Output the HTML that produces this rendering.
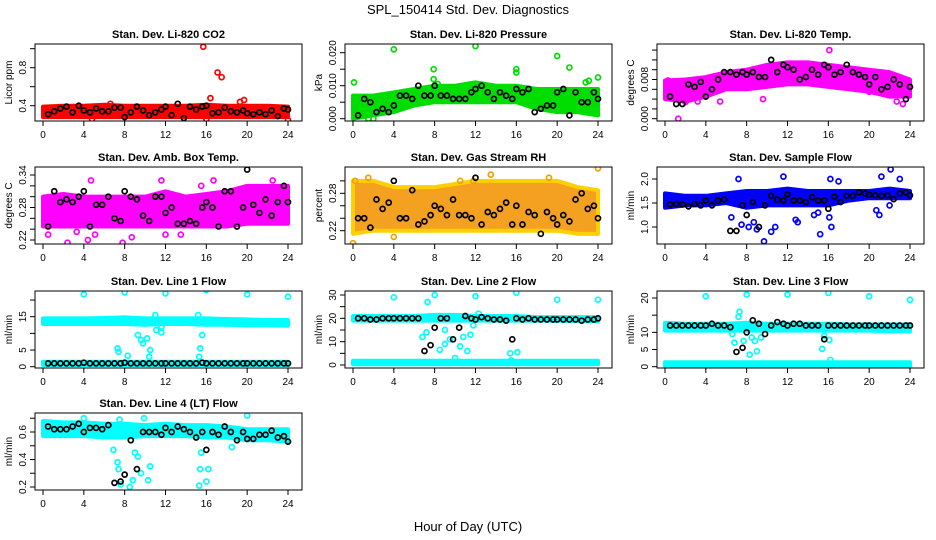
<!DOCTYPE html>
<html><head><meta charset="utf-8"><style>
html,body{margin:0;padding:0;background:#fff;}
svg{display:block;font-family:"Liberation Sans",sans-serif;}
</style></head><body>
<svg id="chart" width="936" height="540" viewBox="0 0 936 540">
<text x="468" y="14" text-anchor="middle" font-size="13">SPL_150414  Std. Dev. Diagnostics</text>
<text x="468" y="531" text-anchor="middle" font-size="13">Hour of Day (UTC)</text>
</svg>
<script>
const xTicks = [0,4,8,12,16,20,24];
const bandHours = [0,2,4,6,8,10,12,14,16,18,20,22,24];
const blackX = [0.5,1.1,1.7,2.3,2.9,3.5,4.0,4.6,5.2,5.8,6.4,7.0,7.6,8.0,8.6,9.2,9.8,10.4,11.0,11.6,12.0,12.6,13.2,13.8,14.4,15.0,15.6,16.0,16.6,17.2,17.8,18.4,19.0,19.6,20.0,20.6,21.2,21.8,22.4,23.0,23.6,24.0];

// Panel 1 CO2
const co2Low = [0.28,0.28,0.28,0.28,0.28,0.28,0.28,0.28,0.28,0.28,0.28,0.28,0.28];
const co2High = [0.39,0.40,0.40,0.41,0.40,0.40,0.40,0.40,0.41,0.40,0.40,0.40,0.39];
const co2OutX = [15.7,17.1,17.5,16.4,19.7,19.3,6.6,16.0,24.0,4.8];
const co2OutY = [1.02,0.75,0.70,0.48,0.46,0.44,0.42,0.26,0.25,0.26];
const co2Black = [0.31,0.34,0.37,0.39,0.33,0.40,0.35,0.33,0.37,0.34,0.34,0.38,0.38,0.28,0.33,0.39,0.35,0.30,0.33,0.36,0.39,0.30,0.42,0.27,0.39,0.36,0.39,0.40,0.32,0.33,0.38,0.34,0.33,0.35,0.32,0.31,0.33,0.31,0.35,0.29,0.37,0.36];
// Panel 2 Pressure
const presLow = [0.000,0.001,0.002,0.004,0.005,0.005,0.005,0.005,0.005,0.003,0.002,0.002,0.001];
const presHigh = [0.007,0.007,0.008,0.009,0.010,0.010,0.011,0.010,0.010,0.009,0.009,0.009,0.009];
const presOutX = [4,12,20,21.2,7.9,7.9,8.3,16,16,0.1,23.1,24,22.8,1.5,2.0];
const presOutY = [0.021,0.022,0.019,0.0155,0.015,0.012,0.0105,0.015,0.014,0.011,0.0115,0.0125,0.011,0.000,0.000];
const presBlack = [0.001,0.006,0.005,0.002,0.003,0.002,0.004,0.007,0.007,0.006,0.010,0.007,0.007,0.010,0.007,0.007,0.006,0.006,0.006,0.008,0.009,0.010,0.008,0.006,0.008,0.007,0.006,0.009,0.008,0.009,0.002,0.003,0.004,0.004,0.008,0.009,0.001,0.008,0.005,0.005,0.008,0.006];
// Panel 3 Li-820 Temp
const tempLow = [0.004,0.0035,0.0045,0.006,0.006,0.0065,0.007,0.007,0.0065,0.006,0.0055,0.0045,0.0045];
const tempHigh = [0.0078,0.008,0.0085,0.0095,0.010,0.011,0.0115,0.0115,0.011,0.0105,0.010,0.0095,0.008];
const tempOutX = [1.3,16.1,5.4,0.3,9.6,20,22.7,23.3,2.0,3.2];
const tempOutY = [0.0000,0.0140,0.0035,0.0078,0.0040,0.0055,0.0035,0.0030,0.0034,0.0035];
const tempBlack = [0.0045,0.0030,0.0030,0.0070,0.0065,0.0075,0.0045,0.0060,0.0080,0.0095,0.0095,0.0090,0.0095,0.0090,0.0095,0.0085,0.0085,0.0120,0.0095,0.0110,0.0105,0.0100,0.0080,0.0085,0.0100,0.0090,0.0110,0.0105,0.0090,0.0095,0.0110,0.0095,0.0090,0.0085,0.0070,0.0085,0.0060,0.0065,0.0080,0.0070,0.0040,0.0065];
// Panel 4 Amb Box Temp
const ambLow = [0.245,0.245,0.245,0.245,0.245,0.245,0.245,0.245,0.245,0.245,0.25,0.25,0.25];
const ambHigh = [0.30,0.305,0.30,0.30,0.30,0.30,0.31,0.30,0.305,0.31,0.32,0.32,0.32];
const ambOutX = [0.5,4.4,5.1,7.8,8.7,12,13.5,15.5,11.6,4.7,16.7,2.4,3.3,22.5];
const ambOutY = [0.23,0.22,0.23,0.215,0.225,0.23,0.23,0.32,0.33,0.33,0.33,0.215,0.235,0.33];
const ambBlack = [0.245,0.31,0.29,0.295,0.29,0.30,0.31,0.245,0.285,0.285,0.30,0.26,0.255,0.31,0.30,0.295,0.265,0.255,0.30,0.30,0.27,0.28,0.25,0.25,0.255,0.25,0.28,0.29,0.28,0.245,0.31,0.31,0.245,0.28,0.35,0.285,0.27,0.295,0.265,0.29,0.32,0.29];
// Panel 5 RH
const rhLow = [0.215,0.22,0.22,0.22,0.22,0.22,0.22,0.22,0.22,0.22,0.22,0.215,0.215];
const rhHigh = [0.30,0.30,0.29,0.29,0.29,0.295,0.30,0.30,0.30,0.30,0.30,0.29,0.285];
const rhOutX = [0,0.2,4,13.5,24,10.5,19.2,11.8,1.5];
const rhOutY = [0.20,0.30,0.21,0.31,0.32,0.30,0.305,0.30,0.305];
const rhBlack = [0.24,0.24,0.225,0.27,0.255,0.265,0.30,0.24,0.24,0.285,0.23,0.235,0.245,0.26,0.255,0.245,0.27,0.245,0.245,0.24,0.305,0.23,0.25,0.245,0.255,0.265,0.23,0.26,0.23,0.25,0.245,0.215,0.25,0.24,0.23,0.245,0.235,0.27,0.28,0.255,0.26,0.24];
// Panel 6 Sample Flow
const sfLow = [1.4,1.45,1.45,1.5,1.4,1.45,1.45,1.45,1.45,1.55,1.6,1.6,1.6];
const sfHigh = [1.7,1.65,1.65,1.7,1.75,1.75,1.8,1.75,1.75,1.75,1.75,1.8,1.75];
const sfOutX = [7.2,11.6,9.7,15.2,16.3,10.4,9.0,13.0,6.5,8.2,14.6,16.1,20.7,21.0,22.1,21.2,23.0,22.0,17.0,16.2,7.5,8.7,12.8,15.0,10.8];
const sfOutY = [2.0,2.05,0.7,0.85,1.0,0.9,0.95,1.1,1.2,1.0,1.25,1.2,1.35,1.25,2.2,2.05,2.0,1.45,1.95,2.0,1.05,1.1,1.15,1.3,1.0];
const sfBlack = [1.47,1.48,1.47,1.43,1.48,1.45,1.55,1.45,1.55,1.57,0.92,0.92,1.45,1.25,1.52,1.00,1.45,1.65,1.57,1.55,1.68,1.55,1.55,1.52,1.62,1.55,1.55,1.38,1.63,1.52,1.65,1.65,1.72,1.70,1.67,1.66,1.65,1.66,1.58,1.70,1.72,1.66];
// Panel 7 Line 1
const l1Low = [12.8,12.8,12.8,12.8,12.8,12.6,12.8,12.8,12.6,12.6,12.4,12.4,12.3];
const l1High = [14.5,14.5,14.5,14.6,14.8,14.5,14.5,14.5,14.5,14.3,14.2,14.0,14.0];
const l1BaseLow = [0.5,0.5,0.5,0.5,0.5,0.5,0.5,0.5,0.5,0.5,0.5,0.5,0.5];
const l1BaseHigh = [1.5,1.5,1.5,1.5,1.5,1.5,1.5,1.5,1.5,1.5,1.5,1.5,1.5];
const l1OutX = [4,8,12,16,20,24,7.3,7.4,8.3,9.3,9.6,9.8,10.2,10.5,10.4,11.1,11.6,11.6,15.3,15.4,15.6,15.2,11.0];
const l1OutY = [21.7,22.3,22,23,21.7,21,5.5,4.5,3.3,9.5,8,7,8.5,5,3,11,10.3,12,3,5.5,9.5,15.5,15.5];
const l1Black = [1.0,1.0,1.0,1.0,1.0,1.0,1.2,1.0,1.0,1.0,1.0,1.0,1.0,1.2,1.0,1.0,1.0,1.0,1.0,1.0,1.0,1.0,1.0,1.0,1.0,1.0,1.2,1.0,1.0,1.0,1.0,1.0,1.0,1.0,1.0,1.0,1.0,1.0,1.0,1.0,1.0,1.0];
// Panel 8 Line 2
const l2Low = [19,19,19,19,19,19,19,19,19,19,19,18.8,18.8];
const l2High = [21,21,21,21,21.5,21.5,21,21,21,20.5,20.5,20.5,20.5];
const l2BaseLow = [0.3,0.3,0.3,0.3,0.3,0.3,0.3,0.3,0.3,0.3,0.3,0.3,0.3];
const l2BaseHigh = [1.8,1.8,1.8,1.8,1.8,1.8,1.8,1.8,1.8,1.8,1.8,1.8,1.8];
const l2OutX = [4,8,12,16,20,24,6.8,7.3,7.2,8.5,9,9.5,10,10.5,11.2,11.5,11.8,15.4,16.1,15.5,12.3,9.0,10.8];
const l2OutY = [29,30,29.5,31,28,28,12,27,14,6.5,9,11,3,8,6,13,17,5,5.5,2,22,15,12];
const l2Black = [20,20,19.5,19.5,20,20,20,20,20,20,20,6,8.5,16,20,20,11,16,21,20,19.5,20.5,20,19.5,19.5,19,11,20,19.5,20,19.5,19.5,19.5,19.5,19.5,19.5,19.5,19.5,19,19.5,19.5,20];
// Panel 9 Line 3
const l3Low = [10.5,10.5,10.5,10.5,10.5,10.5,10.5,10.5,10.5,10.5,10.5,10.3,10.3];
const l3High = [12.8,12.5,12.5,12.5,12.8,12.5,12.5,12.5,12.5,12.3,12.3,12.3,12.3];
const l3BaseLow = [0.2,0.2,0.2,0.2,0.2,0.2,0.2,0.2,0.2,0.2,0.2,0.2,0.2];
const l3BaseHigh = [1.3,1.3,1.3,1.3,1.3,1.3,1.3,1.3,1.3,1.3,1.3,1.3,1.3];
const l3OutX = [4,8,12,16,20,24,7.3,7.2,6.6,6.8,7.7,8.5,8.8,9.0,8.3,9.4,15.4,15.6,16.1,16.2];
const l3OutY = [20.5,21,21,21.5,20.5,19.5,16,14.5,9.5,7,7.5,8.5,7.5,4.5,3.5,8.5,5.2,9,7.8,2];
const l3Black = [12,12,12,12,12,12,12,12.5,12,12,11.5,4.3,5.5,10,13.5,12.5,9.5,12,13,12.5,12,12.5,12.5,12,12,12,8,12,12,12,12,12,12,12,12,12,12,12,12,12,12,12];
// Panel 10 Line 4
const l4Low = [0.57,0.57,0.57,0.56,0.56,0.57,0.57,0.57,0.56,0.56,0.54,0.54,0.53];
const l4High = [0.68,0.67,0.67,0.66,0.66,0.65,0.66,0.65,0.65,0.64,0.62,0.62,0.62];
const l4OutX = [4,9.9,20,7.5,6.9,7.3,7.4,8.5,8.8,7.6,9,9.3,9.6,10.3,10.5,15.3,15.4,15.5,16.2,16.0,18.5];
const l4OutY = [0.70,0.70,0.72,0.69,0.47,0.38,0.33,0.20,0.25,0.22,0.45,0.42,0.30,0.25,0.35,0.21,0.33,0.45,0.33,0.24,0.49];
const l4Black = [0.64,0.62,0.62,0.62,0.64,0.66,0.60,0.63,0.63,0.62,0.65,0.23,0.24,0.29,0.54,0.33,0.60,0.60,0.60,0.58,0.63,0.60,0.64,0.62,0.60,0.56,0.60,0.47,0.60,0.58,0.64,0.60,0.54,0.60,0.55,0.55,0.58,0.58,0.61,0.56,0.57,0.53];

const panels = [
 {name:'co2',title:'Stan. Dev. Li-820 CO2',yl:'Licor ppm',col:0,row:0,v0:0.4,p0:105.7,v1:0.8,p1:67.7,ticks:[0.4,0.6,0.8,1.0],labels:['0.4','','0.8',''],color:'#ff0000',low:co2Low,high:co2High,ox:co2OutX,oy:co2OutY,black:co2Black},
 {name:'pressure',title:'Stan. Dev. Li-820 Pressure',yl:'kPa',col:1,row:0,v0:0,p0:118.7,v1:0.02,p1:52.7,ticks:[0,0.005,0.01,0.015,0.02],labels:['0.000','','0.010','','0.020'],color:'#00dd00',low:presLow,high:presHigh,ox:presOutX,oy:presOutY,black:presBlack},
 {name:'li820-temp',title:'Stan. Dev. Li-820 Temp.',yl:'degrees C',col:2,row:0,v0:0,p0:118.7,v1:0.008,p1:79.5,ticks:[0,0.002,0.004,0.006,0.008,0.010,0.012,0.014],labels:['0.000','','','','0.008','','',''],color:'#ff00ff',low:tempLow,high:tempHigh,ox:tempOutX,oy:tempOutY,black:tempBlack},
 {name:'amb-temp',title:'Stan. Dev. Amb. Box Temp.',yl:'degrees C',col:0,row:1,v0:0.22,p0:240,v1:0.34,p1:175,ticks:[0.22,0.24,0.26,0.28,0.30,0.32,0.34],labels:['0.22','','','0.28','','','0.34'],color:'#ff00ff',low:ambLow,high:ambHigh,ox:ambOutX,oy:ambOutY,black:ambBlack},
 {name:'rh',title:'Stan. Dev. Gas Stream RH',yl:'percent',col:1,row:1,v0:0.22,p0:230.7,v1:0.28,p1:193.3,ticks:[0.22,0.24,0.26,0.28,0.30],labels:['0.22','','','0.28',''],color:'#ffa500',low:rhLow,high:rhHigh,ox:rhOutX,oy:rhOutY,black:rhBlack},
 {name:'sample-flow',title:'Stan. Dev. Sample Flow',yl:'ml/min',col:2,row:1,v0:1.0,p0:227,v1:2.0,p1:179,ticks:[1.0,1.5,2.0],labels:['1.0','1.5','2.0'],color:'#0000ff',low:sfLow,high:sfHigh,ox:sfOutX,oy:sfOutY,black:sfBlack},
 {name:'line1-flow',title:'Stan. Dev. Line 1 Flow',yl:'ml/min',col:0,row:2,v0:0,p0:366.7,v1:15,p1:316.7,ticks:[0,5,10,15,20],labels:['0','5','','15',''],color:'#00ffff',low:l1Low,high:l1High,low2:l1BaseLow,high2:l1BaseHigh,ox:l1OutX,oy:l1OutY,black:l1Black},
 {name:'line2-flow',title:'Stan. Dev. Line 2 Flow',yl:'ml/min',col:1,row:2,v0:0,p0:365,v1:30,p1:295,ticks:[0,5,10,15,20,25,30],labels:['0','','10','','20','','30'],color:'#00ffff',low:l2Low,high:l2High,low2:l2BaseLow,high2:l2BaseHigh,ox:l2OutX,oy:l2OutY,black:l2Black},
 {name:'line3-flow',title:'Stan. Dev. Line 3 Flow',yl:'ml/min',col:2,row:2,v0:0,p0:366.7,v1:20,p1:298,ticks:[0,5,10,15,20],labels:['0','5','10','','20'],color:'#00ffff',low:l3Low,high:l3High,low2:l3BaseLow,high2:l3BaseHigh,ox:l3OutX,oy:l3OutY,black:l3Black},
 {name:'line4-flow',title:'Stan. Dev. Line 4 (LT) Flow',yl:'ml/min',col:0,row:3,v0:0.2,p0:487,v1:0.6,p1:432,ticks:[0.2,0.3,0.4,0.5,0.6,0.7],labels:['0.2','','0.4','','0.6',''],color:'#00ffff',low:l4Low,high:l4High,ox:l4OutX,oy:l4OutY,black:l4Black}
];
const colLeft=[35,345,657], rowTop=[44,167,291,413], boxW=267, boxH=77;
const svg=document.getElementById('chart');
const NS='http://www.w3.org/2000/svg';
function mk(tag,attrs,parent){const e=document.createElementNS(NS,tag);for(const k in attrs)e.setAttribute(k,attrs[k]);(parent||svg).appendChild(e);return e;}

panels.forEach(p=>{
  const L=colLeft[p.col], T=rowTop[p.row];
  const xs=h=>L+8+h*(245/24);
  const ys=v=>p.p0+(v-p.v0)*(p.p1-p.p0)/(p.v1-p.v0);
  const g=mk('g',{});
  
  
  const cp=mk('clipPath',{id:'cp-'+p.name},g);
  mk('rect',{x:L,y:T,width:boxW,height:boxH},cp);
  const marks=mk('g',{'clip-path':'url(#cp-'+p.name+')'},g);
  function band(lo,hi,nm){
    let d='M'+bandHours.map((h,i)=>xs(h)+','+ys(hi[i])).join('L');
    d+='L'+bandHours.slice().reverse().map((h,j)=>{const i=bandHours.length-1-j;return xs(h)+','+ys(lo[i]);}).join('L')+'Z';
    const b=mk('path',{d:d,fill:p.color,stroke:p.color,'stroke-width':4,'stroke-linejoin':'round'},marks);
    
    
    if(p.name==='rh'){b.setAttribute('stroke','#ffd000');b.setAttribute('fill','#f4a020');}
  }
  band(p.low,p.high,p.name+'-dense-band');
  if(p.low2) band(p.low2,p.high2,p.name+'-base-band');
  p.ox.forEach((x,i)=>{
    const c=mk('circle',{cx:xs(x),cy:ys(p.oy[i]),r:2.5,fill:'none',stroke:p.name==='rh'?'#f0a000':p.color,'stroke-width':1.7},marks);
    
    
  });
  blackX.forEach((x,i)=>{
    const c=mk('circle',{cx:xs(x),cy:ys(p.black[i]),r:2.5,fill:'none',stroke:'#000','stroke-width':1.7},marks);
    
    
  });
  const box=mk('rect',{x:L,y:T,width:boxW,height:boxH,fill:'none',stroke:'#000','stroke-width':1},g);
  
  
  const t=mk('text',{x:L+boxW/2,y:T-6,'text-anchor':'middle','font-size':11,'font-weight':'bold'},g);
  t.textContent=p.title;
  
  
  xTicks.forEach(h=>{
    mk('line',{x1:xs(h),x2:xs(h),y1:T+boxH,y2:T+boxH+5,stroke:'#000'},g);
    const tl=mk('text',{x:xs(h),y:T+boxH+17,'text-anchor':'middle','font-size':10},g);
    tl.textContent=h;
    
    
  });
  p.ticks.forEach((v,i)=>{
    mk('line',{x1:L-5,x2:L,y1:ys(v),y2:ys(v),stroke:'#000'},g);
    if(p.labels[i]){
      const yl=mk('text',{x:0,y:0,'text-anchor':'middle','font-size':10,transform:'translate('+(L-9)+','+ys(v)+') rotate(-90)'},g);
      yl.textContent=p.labels[i];
      
      
    }
  });
  const yt=mk('text',{x:0,y:0,'text-anchor':'middle','font-size':10,transform:'translate('+(L-23)+','+(T+boxH/2)+') rotate(-90)'},g);
  yt.textContent=p.yl;
  
  
});
</script>
</body></html>
